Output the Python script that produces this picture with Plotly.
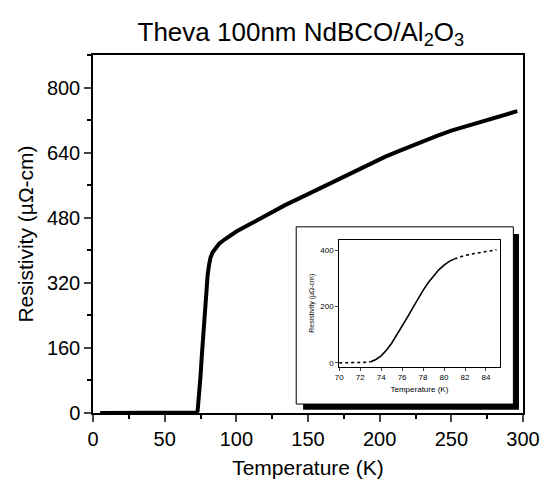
import plotly.graph_objects as go

# Main curve: temperature (K) and resistivity (µΩ-cm)
main_T = [5, 30, 60, 70, 72, 73, 74, 75, 76, 77, 78, 79, 80, 81, 82, 83.5, 85, 86.5, 88, 92, 96,
          100, 110, 120, 134, 150, 157, 170, 182, 190, 204, 215, 227, 240, 250, 262, 272, 284, 296]
main_rho = [0, 0, 0, 0, 1, 5, 40, 90, 145, 200, 255, 300, 340, 365, 382, 395, 403, 410, 416, 427, 437,
            446, 465, 484, 511, 538, 550, 572, 592, 605, 630, 646, 664, 681, 694, 707, 718, 730, 742]

# Inset curve
inset_T = [70, 70.5, 71, 71.5, 72, 72.5, 73, 73.5, 74, 74.5, 75, 75.5, 76, 76.5, 77, 77.5, 78, 78.5,
           79, 79.5, 80, 80.5, 81, 81.5, 82, 82.5, 83, 83.5, 84, 84.5, 85]
inset_rho = [0, 0, 0, 1, 1, 2, 4, 12, 25, 45, 70, 100, 130, 162, 195, 228, 258, 286, 310, 331, 348,
             361, 370, 377, 382, 386, 390, 393, 396, 399, 402]

main_xticks = [0, 50, 100, 150, 200, 250, 300]
main_yticks = [0, 160, 320, 480, 640, 800]
inset_xticks = [70, 72, 74, 76, 78, 80, 82, 84]
inset_yticks = [0, 200, 400]

FONT = "Liberation Sans, Arial, Helvetica, sans-serif"

fig = go.Figure()
fig.add_trace(go.Scatter(x=main_T, y=main_rho, mode="lines",
                         line=dict(color="black", width=4), showlegend=False,
                         xaxis="x", yaxis="y"))

solid_T = [t for t in inset_T if 73 <= t <= 81]
solid_r = [r for t, r in zip(inset_T, inset_rho) if 73 <= t <= 81]
low_T = [t for t in inset_T if t <= 73]
low_r = [r for t, r in zip(inset_T, inset_rho) if t <= 73]
hi_T = [t for t in inset_T if t >= 81]
hi_r = [r for t, r in zip(inset_T, inset_rho) if t >= 81]
for xs, ys, dash in [(low_T, low_r, "dot"), (solid_T, solid_r, "solid"), (hi_T, hi_r, "dot")]:
    fig.add_trace(go.Scatter(x=xs, y=ys, mode="lines",
                             line=dict(color="black", width=1.6, dash=dash),
                             showlegend=False, xaxis="x2", yaxis="y2"))

dx = 0.0136
dy = -0.016
fig.update_layout(
    width=552, height=488,
    margin=dict(l=93, r=19, t=55, b=65),
    paper_bgcolor="white", plot_bgcolor="white",
    font=dict(family=FONT, color="black"),
    title=dict(text="Theva 100nm NdBCO/Al<sub>2</sub>O<sub>3</sub>",
               x=0.545, xanchor="center", y=0.935, yanchor="middle",
               font=dict(size=26, family=FONT)),
    xaxis=dict(domain=[0, 1], range=[0, 300], tickvals=main_xticks,
               showgrid=False, zeroline=False, showline=True, linecolor="black",
               linewidth=1.5, mirror=True, ticks="outside", ticklen=7, tickwidth=1.5,
               minor=dict(dtick=25, ticks="outside", ticklen=4, tickcolor="black"),
               tickfont=dict(size=20), title=dict(text="Temperature (K)", font=dict(size=21),
                                                  standoff=12)),
    yaxis=dict(domain=[0, 1], range=[0, 880], tickvals=main_yticks,
               showgrid=False, zeroline=False, showline=True, linecolor="black",
               linewidth=1.5, mirror=True, ticks="outside", ticklen=7, tickwidth=1.5,
               minor=dict(dtick=80, ticks="outside", ticklen=4, tickcolor="black"),
               tickfont=dict(size=20), title=dict(text="Resistivity (µΩ-cm)", font=dict(size=21),
                                                  standoff=8)),
    xaxis2=dict(domain=[0.559 + dx, 0.932 + dx], anchor="y2", range=[70, 85.3], tickvals=inset_xticks,
                showgrid=False, zeroline=False, showline=True, linecolor="black", linewidth=1,
                mirror=True, ticks="outside", ticklen=3, tickfont=dict(size=8),
                title=dict(text="Temperature (K)", font=dict(size=8), standoff=4)),
    yaxis2=dict(domain=[0.145 + dy, 0.5 + dy], anchor="x2", range=[-14, 438], tickvals=inset_yticks,
                showgrid=False, zeroline=False, showline=True, linecolor="black", linewidth=1,
                mirror=True, ticks="outside", ticklen=3, tickfont=dict(size=8),
                title=dict(text="Resistivity (µΩ-cm)", font=dict(size=7), standoff=4)),
    shapes=[
        dict(type="rect", xref="paper", yref="paper", x0=0.475 + dx, x1=0.977 + dx,
             y0=0.025 + dy, y1=0.516 + dy,
             fillcolor="black", line=dict(width=0), layer="below"),
        dict(type="rect", xref="paper", yref="paper", x0=0.459 + dx, x1=0.964 + dx,
             y0=0.041 + dy, y1=0.536 + dy,
             fillcolor="white", line=dict(color="black", width=1), layer="below"),
    ],
)

fig.write_html("out.html")
